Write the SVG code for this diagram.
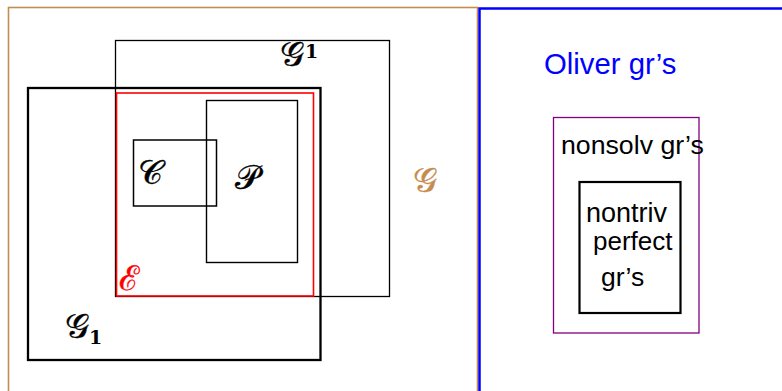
<svg xmlns="http://www.w3.org/2000/svg" width="782" height="391" viewBox="0 0 782 391">
<style>
.box{fill:none;stroke:#000}
.math{font-family:"DejaVu Serif","Liberation Serif",serif;font-size:34px;stroke-width:0.4}
.sans{font-family:"Liberation Sans","DejaVu Sans",sans-serif}
.sub{font-family:"DejaVu Serif","Liberation Serif",serif;font-size:19px;font-weight:bold}
</style>
<rect width="782" height="391" fill="#fff"/>
<g id="G">
<rect x="8.5" y="7.5" width="469" height="400" fill="none" stroke="#C68C4F" stroke-width="1.6"/>
<text x="413" y="192" class="math" fill="#C68C4F" stroke="#C68C4F">𝒢</text>
</g>
<g id="G1upper">
<rect x="115.5" y="40.5" width="274" height="256" class="box" stroke-width="1.3"/>
<text x="280" y="66" class="math" fill="#000" stroke="#000">𝒢</text>
<text x="305" y="58" class="sub" fill="#000">1</text>
</g>
<g id="G1lower">
<rect x="28" y="88" width="292.5" height="272" class="box" stroke-width="2.3"/>
<text x="65" y="338" class="math" fill="#000" stroke="#000">𝒢</text>
<text x="89" y="344" class="sub" fill="#000">1</text>
</g>
<g id="E">
<rect x="116.5" y="93" width="197" height="203" fill="none" stroke="#FF0000" stroke-width="1.6"/>
<text x="119" y="290" class="math" fill="#FF0000" stroke="#FF0000">ℰ</text>
</g>
<g id="P">
<rect x="206.5" y="100.5" width="91" height="162" class="box" stroke-width="1.4"/>
<text x="235" y="189" class="math" fill="#000" stroke="#000">𝒫</text>
</g>
<g id="C">
<rect x="133.5" y="140" width="83" height="66" class="box" stroke-width="1.5"/>
<text x="138" y="184" class="math" fill="#000" stroke="#000">𝒞</text>
</g>
<g id="Oliver">
<rect x="479.5" y="8.5" width="320" height="400" fill="none" stroke="#0000FF" stroke-width="2.5"/>
<text x="544" y="74" class="sans" font-size="29.3" fill="#0000FF">Oliver gr’s</text>
</g>
<g id="nonsolv">
<rect x="553.5" y="117.5" width="145.5" height="215.5" fill="none" stroke="#800080" stroke-width="1.3"/>
<text x="561" y="154" class="sans" font-size="26.7" fill="#000">nonsolv gr’s</text>
</g>
<g id="perfect">
<rect x="579.5" y="182" width="101" height="131" class="box" stroke-width="2.2"/>
<text x="586" y="222" class="sans" font-size="27" fill="#000">nontriv</text>
<text x="593" y="250" class="sans" font-size="26" fill="#000">perfect</text>
<text x="601" y="286" class="sans" font-size="26.5" fill="#000">gr’s</text>
</g>
<g id="connectors"></g>
</svg>
